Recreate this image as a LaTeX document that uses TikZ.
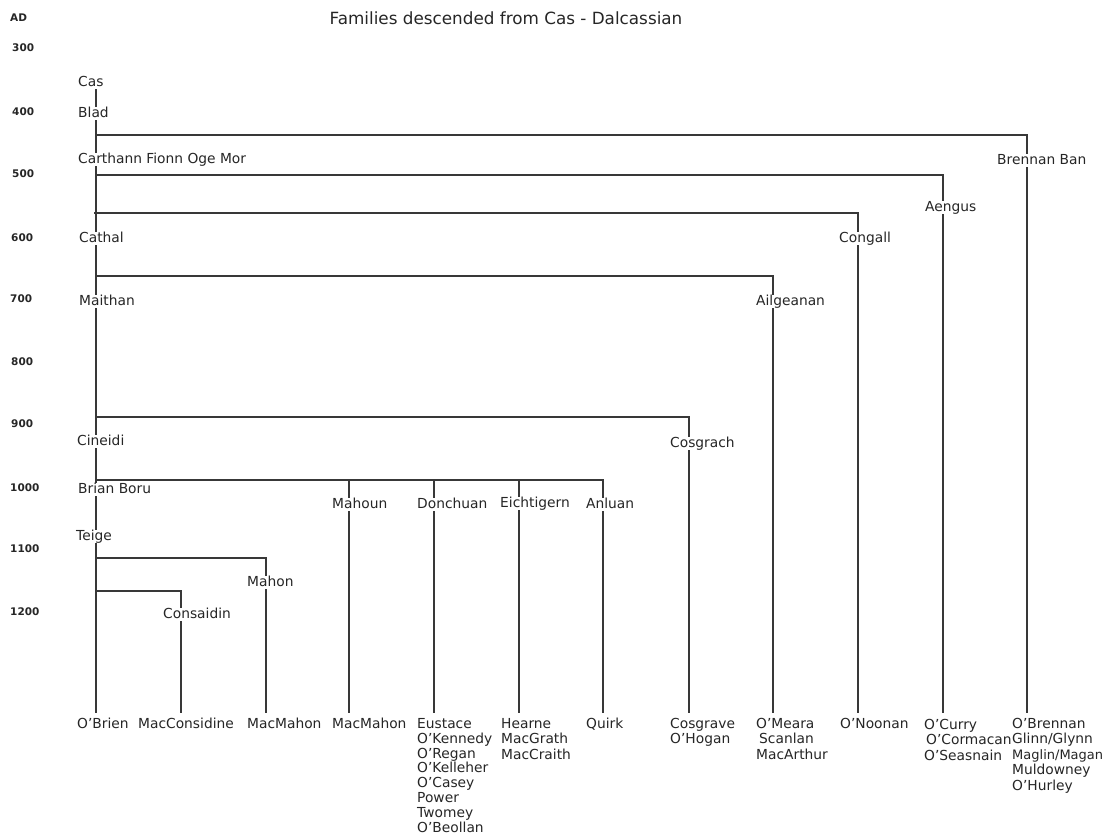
\documentclass[tikz,border=0pt]{standalone}
\usepackage{fontspec}
\setmainfont{DejaVu Sans}
\begin{document}
\begin{tikzpicture}[x=1pt,y=-1pt,
  ln/.style={draw=black!78, line width=1.1pt},
  lab/.style={anchor=west, fill=white, inner xsep=1pt, inner ysep=0pt, text height=10pt, text depth=3pt, font=\fontsize{13.8}{15.5}\selectfont, text=black!85},
  leaf/.style={anchor=north west, fill=white, inner xsep=1pt, inner ysep=0pt, align=left, font=\fontsize{13.8}{15.5}\selectfont, text=black!85},
  yr/.style={anchor=west, inner sep=0pt, font=\bfseries\fontsize{10.5}{12}\selectfont, text=black!85},
  ttl/.style={inner sep=0pt, font=\fontsize{16.8}{18}\selectfont, text=black!85}]
\useasboundingbox (0,0) rectangle (1107,836);

% title and time axis
\node[ttl] (title) at (506,18) {Families descended from Cas - Dalcassian};
\node[yr] (ad) at (10,18) {AD};
\node[yr] (y300) at (12,48) {300};
\node[yr] (y400) at (12,112) {400};
\node[yr] (y500) at (12,174) {500};
\node[yr] (y600) at (11,238) {600};
\node[yr] (y700) at (10,299) {700};
\node[yr] (y800) at (11,362) {800};
\node[yr] (y900) at (11,424) {900};
\node[yr] (y1000) at (10,488) {1000};
\node[yr] (y1100) at (10,549) {1100};
\node[yr] (y1200) at (10,612) {1200};

% connector coordinates
\coordinate (trunkTop) at (96,88);
\coordinate (trunkEnd) at (96,713);
\coordinate (b1) at (96,135);   \coordinate (e1) at (1027,713);
\coordinate (b2) at (96,175);   \coordinate (e2) at (943,713);
\coordinate (b3) at (94,213);   \coordinate (e3) at (858,713);
\coordinate (b4) at (96,276);   \coordinate (e4) at (773,713);
\coordinate (b5) at (96,417);   \coordinate (e5) at (689,713);
\coordinate (b6) at (96,480);
\coordinate (e6a) at (349,713); \coordinate (e6b) at (434,713);
\coordinate (e6c) at (519,713); \coordinate (e6d) at (603,713);
\coordinate (b7) at (96,558);   \coordinate (e7) at (266,713);
\coordinate (b8) at (96,591);   \coordinate (e8) at (181,713);

\draw[ln] (trunkTop) -- (trunkEnd);
\draw[ln] (b1) -| (e1);
\draw[ln] (b2) -| (e2);
\draw[ln] (b3) -| (e3);
\draw[ln] (b4) -| (e4);
\draw[ln] (b5) -| (e5);
\draw[ln] (b6) -| (e6d);
\draw[ln] (e6a |- b6) -- (e6a);
\draw[ln] (e6b |- b6) -- (e6b);
\draw[ln] (e6c |- b6) -- (e6c);
\draw[ln] (b7) -| (e7);
\draw[ln] (b8) -| (e8);

% named ancestors
\node[lab] (cas) at (77,82.5) {Cas};
\node[lab] (blad) at (77,113.5) {Blad};
\node[lab] (carthann) at (77,159.5) {Carthann Fionn Oge Mor};
\node[lab] (cathal) at (78,238.5) {Cathal};
\node[lab] (maithan) at (78,301.5) {Maithan};
\node[lab] (cineidi) at (76,441.5) {Cineidi};
\node[lab] (brian) at (77,489.5) {Brian Boru};
\node[lab] (teige) at (75,536.5) {Teige};
\node[lab] (brennanban) at (996,160.5) {Brennan Ban};
\node[lab] (aengus) at (924,207.5) {Aengus};
\node[lab] (congall) at (838,238.5) {Congall};
\node[lab] (ailgeanan) at (755,301.5) {Ailgeanan};
\node[lab] (cosgrach) at (669,443.5) {Cosgrach};
\node[lab] (mahoun) at (331,504.5) {Mahoun};
\node[lab] (donchuan) at (416,504.5) {Donchuan};
\node[lab] (eichtigern) at (499,503.5) {Eichtigern};
\node[lab] (anluan) at (585,504.5) {Anluan};
\node[lab] (mahon) at (246,582.5) {Mahon};
\node[lab] (consaidin) at (162,614.5) {Consaidin};

% descendant families
\node[leaf] (obrien) at (76,717) {\rule{0pt}{11pt}O'Brien};
\node[leaf] (macconsidine) at (137,717) {\rule{0pt}{11pt}MacConsidine};
\node[leaf] (macmahonA) at (246,717) {\rule{0pt}{11pt}MacMahon};
\node[leaf] (macmahonB) at (331,717) {\rule{0pt}{11pt}MacMahon};
\node[leaf, font=\fontsize{13.8}{14.9}\selectfont] (eustace) at (416,717) {\rule{0pt}{11pt}Eustace\\O'Kennedy\\O'Regan\\O'Kelleher\\O'Casey\\Power\\Twomey\\O'Beollan};
\node[leaf] (hearne) at (500,717) {\rule{0pt}{11pt}Hearne\\MacGrath\\MacCraith};
\node[leaf] (quirk) at (585,717) {\rule{0pt}{11pt}Quirk};
\node[leaf] (cosgrave) at (669,717) {\rule{0pt}{11pt}Cosgrave\\O'Hogan};
\node[leaf] (omeara) at (755,717) {\rule{0pt}{11pt}O'Meara\\\hspace{3pt}Scanlan\\MacArthur};
\node[leaf] (onoonan) at (839,717) {\rule{0pt}{11pt}O'Noonan};
\node[leaf] (ocurry) at (923,718) {\rule{0pt}{11pt}O'Curry\\\hspace{2pt}O'Cormacan\\O'Seasnain};
\node[leaf] (obrennan) at (1011,717) {\rule{0pt}{11pt}O'Brennan\\Glinn/Glynn\\{\fontsize{13}{15.5}\selectfont Maglin/Magan}\\Muldowney\\O'Hurley};
\end{tikzpicture}
\end{document}
